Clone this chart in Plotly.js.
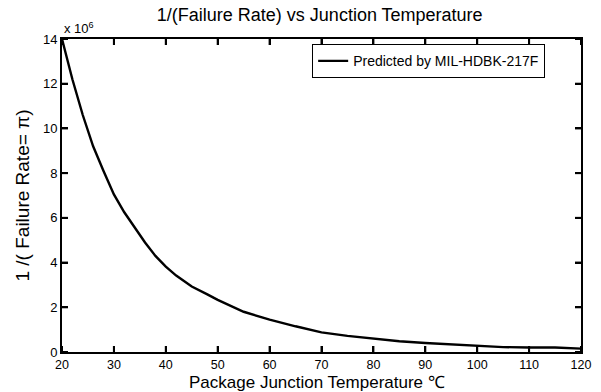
<!DOCTYPE html>
<html>
<head>
<meta charset="utf-8">
<script src="https://cdn.plot.ly/plotly-3.0.1.min.js"></script>
<style>html,body{margin:0;padding:0;background:#fff;}#chart{width:601px;height:392px;}</style>
</head>
<body>
<div id="chart"></div>
<script>
// Junction temperature (°C)
const temperature = [20,22,24,26,28,30,32,34,36,38,40,42,45,48,50,55,60,65,70,75,80,85,90,95,100,105,110,115,120];
// 1/(Failure Rate) in units of 1e6
const inverseFailureRate = [14.0,12.2,10.6,9.2,8.1,7.05,6.25,5.55,4.9,4.3,3.82,3.42,2.93,2.58,2.33,1.8,1.45,1.15,0.88,0.72,0.6,0.48,0.40,0.33,0.28,0.22,0.2,0.2,0.15];
const xTicks = [20,30,40,50,60,70,80,90,100,110,120];
const yTicks = [0,2,4,6,8,10,12,14];
const seriesName = 'Predicted by MIL-HDBK-217F';
const xTitle = 'Package Junction Temperature ℃';

const font = 'Liberation Sans, Arial, sans-serif';
const data = [{
  x: temperature, y: inverseFailureRate, type: 'scatter', mode: 'lines',
  name: seriesName, line: {color: '#000', width: 2.4}
}];

// inside tick marks on all four sides, placed through the axes' own scales
const tickLine = {color: '#000', width: 2};
const shapes = [];
xTicks.forEach(v => {
  shapes.push({type: 'line', xref: 'x', yref: 'paper', ysizemode: 'pixel', yanchor: 0, x0: v, x1: v, y0: 0, y1: 6, line: tickLine});
  shapes.push({type: 'line', xref: 'x', yref: 'paper', ysizemode: 'pixel', yanchor: 1, x0: v, x1: v, y0: 0, y1: -6, line: tickLine});
});
yTicks.forEach(v => {
  shapes.push({type: 'line', xref: 'paper', yref: 'y', xsizemode: 'pixel', xanchor: 0, y0: v, y1: v, x0: 0, x1: 6, line: tickLine});
  shapes.push({type: 'line', xref: 'paper', yref: 'y', xsizemode: 'pixel', xanchor: 1, y0: v, y1: v, x0: 0, x1: -6, line: tickLine});
});

const layout = {
  width: 601, height: 392,
  margin: {l: 62, r: 20, t: 39, b: 40},
  paper_bgcolor: '#fff', plot_bgcolor: '#fff',
  font: {family: font, color: '#000', size: 12},
  title: {text: '1/(Failure Rate) vs Junction Temperature', font: {size: 18, family: font},
          x: 0.532, xanchor: 'center', y: 0.962, yanchor: 'middle'},
  showlegend: true,
  legend: {x: 0.482, y: 0.983, xanchor: 'left', yanchor: 'top', bordercolor: '#000', borderwidth: 1,
           bgcolor: '#fff', font: {size: 14, family: font}, tracegroupgap: 0},
  xaxis: {range: [20, 120], tickmode: 'array', tickvals: xTicks, ticks: 'inside', ticklen: 6, tickwidth: 2, tickcolor: '#000',
          showline: true, linecolor: '#000', linewidth: 2, mirror: 'allticks', showgrid: false, zeroline: false,
          tickfont: {size: 12.5, family: font}, automargin: false},
  yaxis: {range: [0, 14], tickmode: 'array', tickvals: yTicks, ticks: 'inside', ticklen: 6, tickwidth: 2, tickcolor: '#000',
          showline: true, linecolor: '#000', linewidth: 2, mirror: 'allticks', showgrid: false, zeroline: false,
          tickfont: {size: 13, family: font},
          title: {text: '1 /( Failure Rate= π)', font: {size: 19, family: font}, standoff: 8}},
  shapes: shapes,
  annotations: [
    {text: 'x 10<sup>6</sup>', xref: 'paper', yref: 'paper', x: 0.0, y: 1.0, xanchor: 'left', yanchor: 'bottom',
     showarrow: false, font: {size: 13, family: font}, yshift: 1},
    {text: xTitle, xref: 'paper', yref: 'paper', x: 0.491, y: 0, xanchor: 'center', yanchor: 'middle',
     yshift: -30, showarrow: false, font: {size: 17, family: font}}
  ]
};
Plotly.newPlot('chart', data, layout, {displayModeBar: false, staticPlot: true});
</script>
</body>
</html>
